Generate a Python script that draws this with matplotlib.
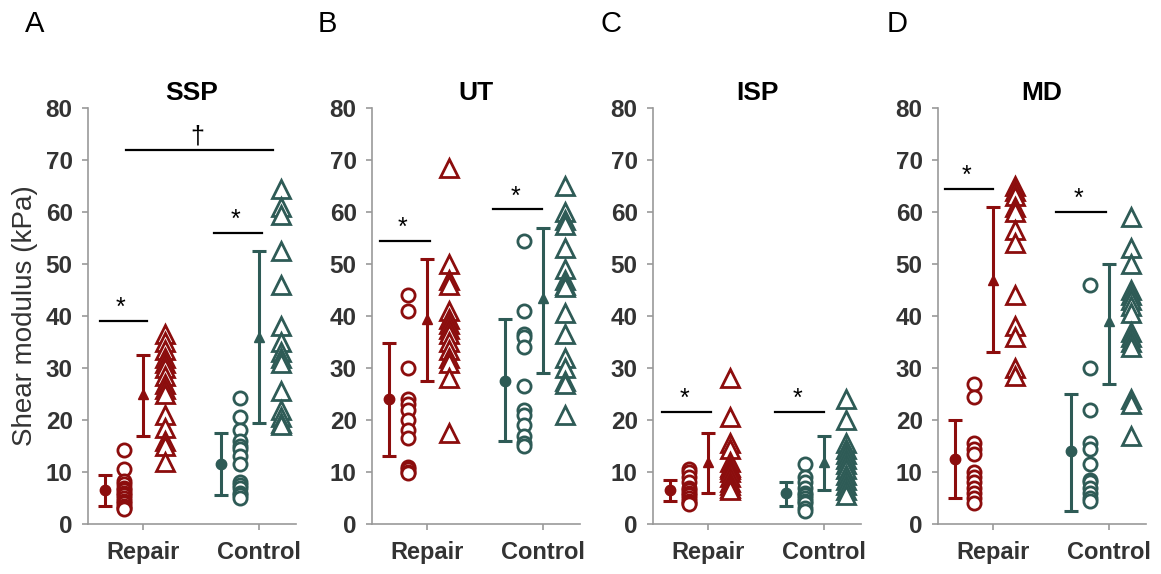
import numpy as np
import matplotlib.pyplot as plt

plt.rcParams["font.family"] = ["Liberation Sans", "DejaVu Sans"]

# panels
panels = ["SSP", "UT", "ISP", "MD"]
letters = ["A", "B", "C", "D"]
groups = ["Repair", "Control"]

# raw points per panel: (circles, triangles) for Repair and Control
ssp_rep_circ = [14.3, 10.5, 8.2, 7.6, 7.0, 6.5, 6.0, 5.5, 5.0, 4.5, 4.0, 3.5, 3.0, 2.8]
ssp_rep_tri = [36.5, 35.0, 33.5, 32.0, 31.0, 30.0, 28.5, 27.0, 26.0, 25.0, 21.0, 18.5, 16.0, 15.0, 12.0]
ssp_con_circ = [24.3, 20.5, 18.0, 16.0, 15.0, 14.5, 13.0, 11.5, 8.0, 7.5, 7.0, 6.0, 5.5, 5.0]
ssp_con_tri = [64.5, 61.0, 59.5, 52.5, 46.0, 38.0, 35.0, 33.0, 32.0, 31.0, 25.5, 22.0, 20.5, 19.5, 19.0]

ut_rep_circ = [44.0, 41.0, 30.0, 24.0, 23.0, 22.0, 20.0, 18.0, 16.5, 11.0, 10.5, 10.0, 9.8]
ut_rep_tri = [68.5, 50.0, 47.0, 46.0, 41.0, 39.5, 38.5, 37.5, 36.5, 35.0, 33.5, 32.0, 31.0, 28.0, 17.5]
ut_con_circ = [54.5, 41.0, 36.5, 36.0, 34.0, 26.5, 22.0, 21.0, 19.0, 17.0, 15.5, 15.0]
ut_con_tri = [65.0, 60.0, 58.5, 57.5, 53.0, 49.0, 47.0, 46.0, 45.5, 40.5, 36.5, 32.0, 30.0, 27.5, 27.0, 21.0]

isp_rep_circ = [10.5, 10.0, 9.0, 8.0, 7.0, 6.5, 6.0, 5.5, 5.0, 4.5, 4.0, 3.8]
isp_rep_tri = [28.0, 20.5, 15.5, 14.5, 12.0, 11.0, 10.5, 10.0, 9.0, 8.0, 7.5, 7.0, 6.5]
isp_con_circ = [11.5, 9.0, 8.0, 7.0, 6.0, 5.5, 5.0, 4.5, 4.0, 3.0, 2.5]
isp_con_tri = [24.0, 20.0, 15.5, 14.5, 13.5, 12.5, 11.5, 10.5, 9.5, 8.5, 7.5, 6.5, 5.5]

md_rep_circ = [27.0, 24.5, 15.5, 14.5, 13.5, 10.0, 9.0, 8.0, 7.0, 6.0, 5.0, 4.0]
md_rep_tri = [65.0, 64.0, 63.0, 61.0, 60.0, 56.5, 54.0, 44.0, 38.0, 36.0, 30.0, 28.5]
md_con_circ = [46.0, 30.0, 22.0, 15.5, 14.5, 11.5, 8.5, 8.0, 7.0, 6.0, 5.0, 4.5]
md_con_tri = [59.0, 53.0, 50.0, 45.0, 44.0, 43.0, 42.0, 40.5, 37.0, 36.0, 35.0, 34.0, 24.0, 23.0, 17.0]

# mean and error range (low, high)
circ_mean = [[6.5, 11.5], [24.0, 27.5], [6.5, 6.0], [12.5, 14.0]]
circ_lo = [[3.5, 5.5], [13.0, 16.0], [4.5, 3.5], [5.0, 2.5]]
circ_hi = [[9.5, 17.5], [34.8, 39.5], [8.5, 8.0], [20.0, 25.0]]
tri_mean = [[25.0, 36.0], [39.5, 43.5], [12.0, 12.0], [47.0, 39.0]]
tri_lo = [[17.0, 19.5], [27.5, 29.0], [6.0, 6.5], [33.0, 27.0]]
tri_hi = [[32.5, 52.5], [51.0, 57.0], [17.5, 17.0], [61.0, 50.0]]

# significance bars: (x0, x1, y, label)
sig_bars = [
    [(0.62, 1.03, 39.0, "*"), (1.61, 2.03, 56.0, "*"), (0.85, 2.12, 72.0, "\u2020")],
    [(0.59, 1.02, 54.5, "*"), (1.57, 1.99, 60.5, "*")],
    [(0.60, 1.02, 21.5, "*"), (1.58, 2.00, 21.5, "*")],
    [(0.58, 1.00, 64.5, "*"), (1.54, 1.97, 60.0, "*")],
]

points = [
    [(ssp_rep_circ, ssp_rep_tri), (ssp_con_circ, ssp_con_tri)],
    [(ut_rep_circ, ut_rep_tri), (ut_con_circ, ut_con_tri)],
    [(isp_rep_circ, isp_rep_tri), (isp_con_circ, isp_con_tri)],
    [(md_rep_circ, md_rep_tri), (md_con_circ, md_con_tri)],
]

colors = ["#8c0d0d", "#2e5b56"]
lefts = [88, 372, 653, 938]
letter_x = [25, 318, 600, 887]

W, H = 1161, 574
fig = plt.figure(figsize=(W / 100, H / 100), dpi=100)

for p in range(4):
    ax = fig.add_axes([lefts[p] / W, 1 - 524 / H, 208 / W, 416 / H])
    for g in range(2):
        c = colors[g]
        x0 = g + 1
        circ, tri = points[p][g]
        ax.errorbar(x0 - 0.33, circ_mean[p][g],
                    yerr=[[circ_mean[p][g] - circ_lo[p][g]], [circ_hi[p][g] - circ_mean[p][g]]],
                    fmt="o", color=c, ms=7.5, capsize=5, elinewidth=2.2, capthick=2.2, zorder=3)
        ax.plot(np.full(len(circ), x0 - 0.165), circ, "o", mfc="white", mec=c,
                ms=9.5, mew=2, ls="none", zorder=2)
        ax.errorbar(x0, tri_mean[p][g],
                    yerr=[[tri_mean[p][g] - tri_lo[p][g]], [tri_hi[p][g] - tri_mean[p][g]]],
                    fmt="^", color=c, ms=7.5, capsize=5, elinewidth=2.2, capthick=2.2, zorder=3)
        ax.plot(np.full(len(tri), x0 + 0.19), tri, "^", mfc="white", mec=c,
                ms=12.5, mew=2, ls="none", zorder=2)

    for (a, b, y, lab) in sig_bars[p]:
        ax.plot([a, b], [y, y], color="black", lw=1.6, clip_on=False)
        ax.text((a + b) / 2 - 0.02, y + 0.2, lab, ha="center", va="bottom",
                fontsize=18, color="black")

    ax.set_xlim(0.52, 2.32)
    ax.set_ylim(0, 80)
    ax.set_yticks(range(0, 81, 10))
    ax.set_xticks([1, 2])
    ax.set_xticklabels(groups)
    for s in ["top", "right"]:
        ax.spines[s].set_visible(False)
    for s in ["left", "bottom"]:
        ax.spines[s].set_color("#999999")
        ax.spines[s].set_linewidth(1.2)
    ax.tick_params(axis="both", colors="#999999", length=4, width=1.2,
                   labelcolor="#333333")
    ax.tick_params(axis="y", pad=7, labelsize=17.5)
    ax.tick_params(axis="x", pad=8, labelsize=17)
    for t in ax.get_yticklabels() + ax.get_xticklabels():
        t.set_fontweight("bold")
    ax.set_title(panels[p], fontsize=19, fontweight="bold", pad=6)
    if p == 0:
        ax.set_ylabel("Shear modulus (kPa)", fontsize=20, color="#333333")
        ax.yaxis.set_label_coords(-0.24, 0.5)
    fig.text(letter_x[p] / W, 1 - 24 / H, letters[p], fontsize=21,
             ha="left", va="center")

fig.savefig("out.png", dpi=100)
